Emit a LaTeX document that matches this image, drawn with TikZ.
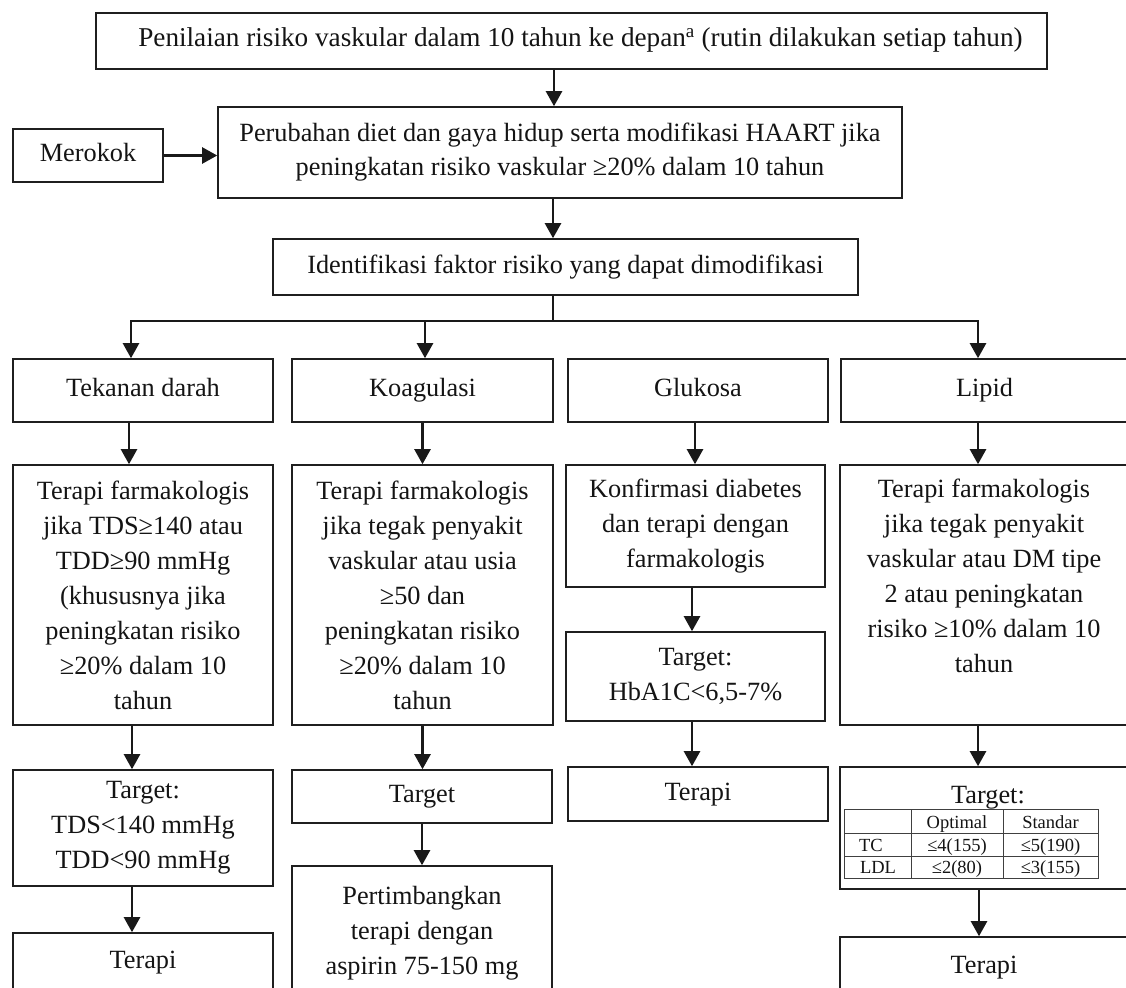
\documentclass[tikz,border=0pt]{standalone}
\usepackage{fontspec}
\setmainfont{Liberation Serif}
\usetikzlibrary{arrows.meta}
\newcommand\bigfs{\fontsize{26.3}{35}\selectfont}
\newcommand\tabfs{\fontsize{18.5}{20}\selectfont}
\tikzset{
  bx/.style={draw=black!88, line width=1.6pt, align=center, inner sep=0pt, font=\bigfs, text=black!92},
  one/.style={text height=18pt, text depth=6pt},
  txt/.style={align=center, inner sep=0pt, font=\bigfs, text=black!92},
  arr/.style={line width=2.4pt, draw=black!90, -{Triangle[length=15pt,width=16pt]}},
  ln/.style={line width=2pt, draw=black!90},
  grid/.style={line width=0.9pt, draw=black!75},
  tt/.style={font=\tabfs, inner sep=0pt, text=black!92},
}
\newcommand\vlink[3]{\draw[arr] ([xshift=#3]#1.south) -- ([xshift=#3]#1.south |- #2.north);}
\begin{document}
\begin{tikzpicture}[x=1pt,y=-1pt]
\useasboundingbox (0,0) rectangle (1126,987);
\fill[white] (0,0) rectangle (1126,987);

% top part
\node[bx, one, minimum width=951pt, minimum height=56pt, font=\fontsize{27.2}{35}\selectfont] (top) at (571.5,41)
  {\hspace*{18pt}Penilaian risiko vaskular dalam 10 tahun ke depan\textsuperscript{a} (rutin dilakukan setiap tahun)};
\node[bx, one, minimum width=150pt, minimum height=53pt] (smk) at (88,155.5) {Merokok};
\node[bx, minimum width=684pt, minimum height=91pt, font=\fontsize{26.3}{34}\selectfont] (life) at (560,152.5)
  {Perubahan diet dan gaya hidup serta modifikasi HAART jika\\peningkatan risiko vaskular ≥20\% dalam 10 tahun};
\node[bx, one, minimum width=585pt, minimum height=56pt] (ident) at (565.5,267)
  {Identifikasi faktor risiko yang dapat dimodifikasi};

% row 1
\node[bx, one, minimum width=260pt, minimum height=63pt] (td) at (143,390.5) {Tekanan darah};
\node[bx, one, minimum width=261pt, minimum height=63pt] (ko) at (422.5,390.5) {Koagulasi};
\node[bx, one, minimum width=260pt, minimum height=63pt] (gl) at (698,390.5) {Glukosa};
\node[bx, one, minimum width=287pt, minimum height=63pt] (li) at (984.5,390.5) {Lipid};

% row 2
\node[bx, minimum width=260pt, minimum height=260pt] (td2) at (143,595)
  {Terapi farmakologis\\jika TDS≥140 atau\\TDD≥90 mmHg\\(khususnya jika\\peningkatan risiko\\≥20\% dalam 10\\tahun};
\node[bx, minimum width=261pt, minimum height=260pt] (ko2) at (422.5,595)
  {Terapi farmakologis\\jika tegak penyakit\\vaskular atau usia\\≥50 dan\\peningkatan risiko\\≥20\% dalam 10\\tahun};
\node[bx, minimum width=259pt, minimum height=122pt] (gl2) at (695.5,526)
  {Konfirmasi diabetes\\dan terapi dengan\\farmakologis};
\node[bx, minimum width=288pt, minimum height=260pt] (li2) at (984,595) {};
\node[txt, anchor=north] (li2t) at ([yshift=-15pt]li2.north)
  {Terapi farmakologis\\jika tegak penyakit\\vaskular atau DM tipe\\2 atau peningkatan\\risiko ≥10\% dalam 10\\tahun};

% row 3
\node[bx, minimum width=260pt, minimum height=116pt] (td3) at (143,828)
  {Target:\\TDS<140 mmHg\\TDD<90 mmHg};
\node[bx, one, minimum width=260pt, minimum height=53pt] (ko3) at (422,796.5) {Target};
\node[bx, minimum width=259pt, minimum height=89pt] (gl3) at (695.5,676.5)
  {Target:\\HbA1C<6,5-7\%};
\node[bx, minimum width=288pt, minimum height=122pt] (li3) at (984,828) {};
\node[txt, anchor=base] (li3t) at (988,803) {Target:};

% lipid table
\draw[grid] (844,809) rectangle (1098,878);
\draw[grid] (844,833) -- (1098,833);
\draw[grid] (844,856) -- (1098,856);
\draw[grid] (911,809) -- (911,878);
\draw[grid] (1003,809) -- (1003,878);
\node[tt, anchor=base] (hOpt) at (957,828) {Optimal};
\node[tt, anchor=base] (hStd) at (1050.5,828) {Standar};
\node[tt, anchor=base] (rTC) at (871,851) {TC};
\node[tt, anchor=base] (rLDL) at (878,873) {LDL};
\node[tt, anchor=base] (c11) at (957,851) {≤4(155)};
\node[tt, anchor=base] (c12) at (1050.5,851) {≤5(190)};
\node[tt, anchor=base] (c21) at (957,873) {≤2(80)};
\node[tt, anchor=base] (c22) at (1050.5,873) {≤3(155)};

% row 4
\node[bx, one, minimum width=260pt, minimum height=58pt] (td4) at (143,962) {Terapi};
\node[bx, minimum width=260pt, minimum height=134pt] (ko4) at (422,933)
  {Pertimbangkan\\terapi dengan\\aspirin 75-150 mg};
\node[bx, one, minimum width=260pt, minimum height=54pt] (gl4) at (698,794) {Terapi};
\node[bx, one, minimum width=288pt, minimum height=60pt] (li4) at (984,967) {Terapi};

% connectors, top part
\vlink{top}{life}{-17.5pt}
\draw[arr] (smk.east) -- (smk.east -| life.west);
\vlink{life}{ident}{-7pt}
\coordinate (br) at (553,321);
\coordinate (bk) at (425,321);
\draw[ln] (ident.south -| br) -- (br);
\draw[arr] (br) -| ([xshift=-12pt]td.north);
\draw[arr] (br) -| ([xshift=-6.5pt]li.north);
\draw[arr] (bk) -- (bk |- ko.north);

% column connectors
\vlink{td}{td2}{-14pt}
\vlink{ko}{ko2}{0pt}
\vlink{gl}{gl2}{-3pt}
\vlink{li}{li2}{-6.5pt}
\vlink{td2}{td3}{-11pt}
\vlink{ko2}{ko3}{0pt}
\vlink{gl2}{gl3}{-3.5pt}
\vlink{li2}{li3}{-6pt}
\vlink{td3}{td4}{-11pt}
\vlink{ko3}{ko4}{0pt}
\vlink{gl3}{gl4}{-3.5pt}
\vlink{li3}{li4}{-5pt}
\end{tikzpicture}
\end{document}
